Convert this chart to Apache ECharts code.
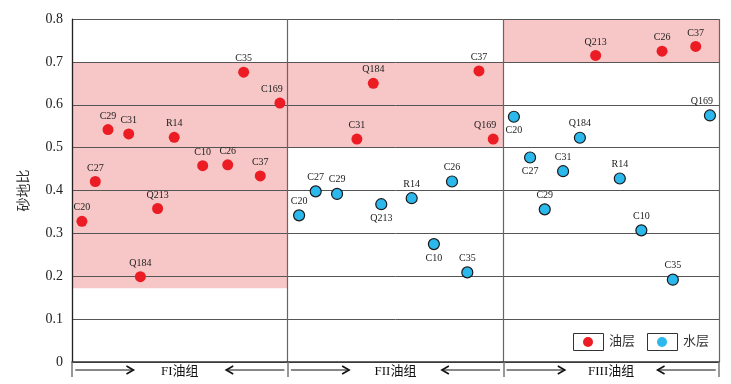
<!DOCTYPE html>
<html><head><meta charset="utf-8">
<script src="https://cdn.jsdelivr.net/npm/echarts@6/dist/echarts.min.js"></script>
<style>html,body{margin:0;padding:0;background:#fff}#c{width:731px;height:384px}</style>
</head><body><div id="c"></div>
<script>
// ---- data ----
const groupNames = ['FI油组', 'FII油组', 'FIII油组'];
const groupCenters = [0.5, 1.5, 2.5];
const yTickValues = [0, 0.1, 0.2, 0.3, 0.4, 0.5, 0.6, 0.7, 0.8];
const legendNames = ['油层', '水层'];

// oil layers (red)
const oilNames = ['C20','C27','C29','C31','Q184','Q213','R14','C10','C26','C35','C37','C169',
                  'C31','Q184','C37','Q169',
                  'Q213','C26','C37'];
const oilX = [0.046,0.108,0.167,0.263,0.317,0.397,0.474,0.606,0.722,0.796,0.873,0.964,
              1.321,1.397,1.887,1.953,
              2.428,2.736,2.892];
const oilY = [0.328,0.421,0.542,0.532,0.199,0.358,0.524,0.458,0.460,0.676,0.434,0.604,
              0.520,0.650,0.679,0.520,
              0.715,0.725,0.736];

// water layers (blue)
const waterNames = ['C20','C27','C29','Q213','R14','C10','C26','C35',
                    'C20','C27','C29','C31','Q184','R14','C10','C35','Q169'];
const waterX = [1.053,1.130,1.229,1.434,1.575,1.678,1.762,1.833,
                2.049,2.124,2.192,2.277,2.355,2.540,2.640,2.786,2.958];
const waterY = [0.342,0.398,0.392,0.368,0.382,0.275,0.421,0.209,
                0.572,0.477,0.356,0.445,0.523,0.428,0.307,0.192,0.575];

// oil-bearing ranges per group: [xStart, xEnd, yLow, yHigh]
const oilBands = [[0,1,0.172,0.7],[1,2,0.5,0.7],[2,3,0.7,0.8]];
// arrows in the group strip: [from, to]
const arrowSegments = [[0.015,0.285],[0.985,0.715],[1.015,1.285],[1.985,1.715],[2.015,2.285],[2.985,2.715]];

// ---- label placement (style, not data) ----
const waterLabelBelow = [false,false,false,true,false,true,false,false,
                         true,true,false,false,false,false,false,false,false];
const edgeNames = ['C169','Q169'];

const OIL_COLOR = '#EC1C24';
const WATER_COLOR = '#2BB8EC';

function pts(names, xs, ys, below) {
  return xs.map((x, i) => {
    const d = { name: names[i], value: [x, ys[i]] };
    const lab = {};
    if (below && below[i]) lab.position = 'bottom';
    if (edgeNames.includes(names[i])) lab.offset = [-8, 0];
    if (Object.keys(lab).length) d.label = lab;
    return d;
  });
}

const labelStyle = {
  show: true, formatter: '{b}', position: 'top', distance: 3,
  fontSize: 10, fontFamily: 'Liberation Serif', color: '#222'
};

function legendItem(x, color, text) {
  return [
    { type: 'rect', left: x, top: 333, shape: { width: 30, height: 17 },
      style: { fill: '#fff', stroke: '#333', lineWidth: 1 }, z: 100, silent: true },
    { type: 'circle', shape: { cx: x + 15, cy: 342, r: 5 }, style: { fill: color }, z: 101, silent: true },
    { type: 'text', left: x + 36, top: 334, z: 101, silent: true,
      style: { text: text, fontSize: 13, fill: '#333', fontFamily: 'Noto Sans CJK SC' } }
  ];
}

const chart = echarts.init(document.getElementById('c'), null, { renderer: 'canvas' });
chart.setOption({
  animation: false,
  backgroundColor: '#fff',
  grid: { left: 72, right: 12, top: 19, bottom: 22, containLabel: false },
  xAxis: {
    type: 'value', min: 0, max: 3, interval: 1, z: 3,
    axisLine: { show: true, onZero: false, lineStyle: { color: '#333', width: 1.5 } },
    axisTick: { show: true, length: 15, lineStyle: { color: '#777', width: 1.5 } },
    axisLabel: {
      customValues: groupCenters,
      formatter: v => groupNames[Math.floor(v)],
      margin: 3, fontSize: 13, color: '#111',
      fontFamily: 'Liberation Serif, Noto Sans CJK SC'
    },
    splitLine: { show: true, lineStyle: { color: '#666', width: 1.2 } }
  },
  yAxis: {
    type: 'value', min: 0, max: 0.8, interval: 0.1, z: 3,
    name: '砂地比', nameLocation: 'middle', nameGap: 42, nameRotate: 90,
    nameTextStyle: { fontSize: 14, color: '#333', fontFamily: 'Noto Sans CJK SC' },
    axisLine: { show: true, lineStyle: { color: '#222', width: 1.2 } },
    axisTick: { show: false },
    axisLabel: {
      customValues: yTickValues,
      margin: 9, fontSize: 14, color: '#222', fontFamily: 'Liberation Serif',
      formatter: v => (v === 0 ? '0' : v.toFixed(1))
    },
    splitLine: { show: true, lineStyle: { color: '#555', width: 1 } }
  },
  graphic: [].concat(
    legendItem(573, OIL_COLOR, legendNames[0]),
    legendItem(647, WATER_COLOR, legendNames[1])
  ),
  series: [
    {
      name: 'bands', type: 'scatter', data: [], z: 1, silent: true,
      markArea: {
        silent: true,
        itemStyle: { color: '#F7C6C6', opacity: 1 },
        data: oilBands.map(b => [{ xAxis: b[0], yAxis: b[2] }, { xAxis: b[1], yAxis: b[3] }])
      }
    },
    {
      name: 'arrows', type: 'custom', coordinateSystem: 'cartesian2d', clip: false, silent: true, z: 5,
      data: arrowSegments,
      renderItem: (params, api) => {
        const a = api.coord([api.value(0), 0]);
        const b = api.coord([api.value(1), 0]);
        const y = a[1] + 8;
        const dir = Math.sign(b[0] - a[0]);
        return {
          type: 'group',
          children: [
            { type: 'line', shape: { x1: a[0], y1: y, x2: b[0], y2: y }, style: { stroke: '#111', lineWidth: 1 } },
            { type: 'polyline', shape: { points: [[b[0] - dir * 7, y - 4], [b[0], y], [b[0] - dir * 7, y + 4]] },
              style: { stroke: '#111', lineWidth: 1.6, fill: null } }
          ]
        };
      }
    },
    {
      name: legendNames[0], type: 'scatter', symbolSize: 11, z: 10,
      itemStyle: { color: OIL_COLOR, opacity: 1 },
      label: labelStyle,
      data: pts(oilNames, oilX, oilY, null)
    },
    {
      name: legendNames[1], type: 'scatter', symbolSize: 11, z: 10,
      itemStyle: { color: WATER_COLOR, borderColor: '#1a1a1a', borderWidth: 1.2, opacity: 1 },
      label: labelStyle,
      data: pts(waterNames, waterX, waterY, waterLabelBelow)
    }
  ]
});
</script></body></html>
